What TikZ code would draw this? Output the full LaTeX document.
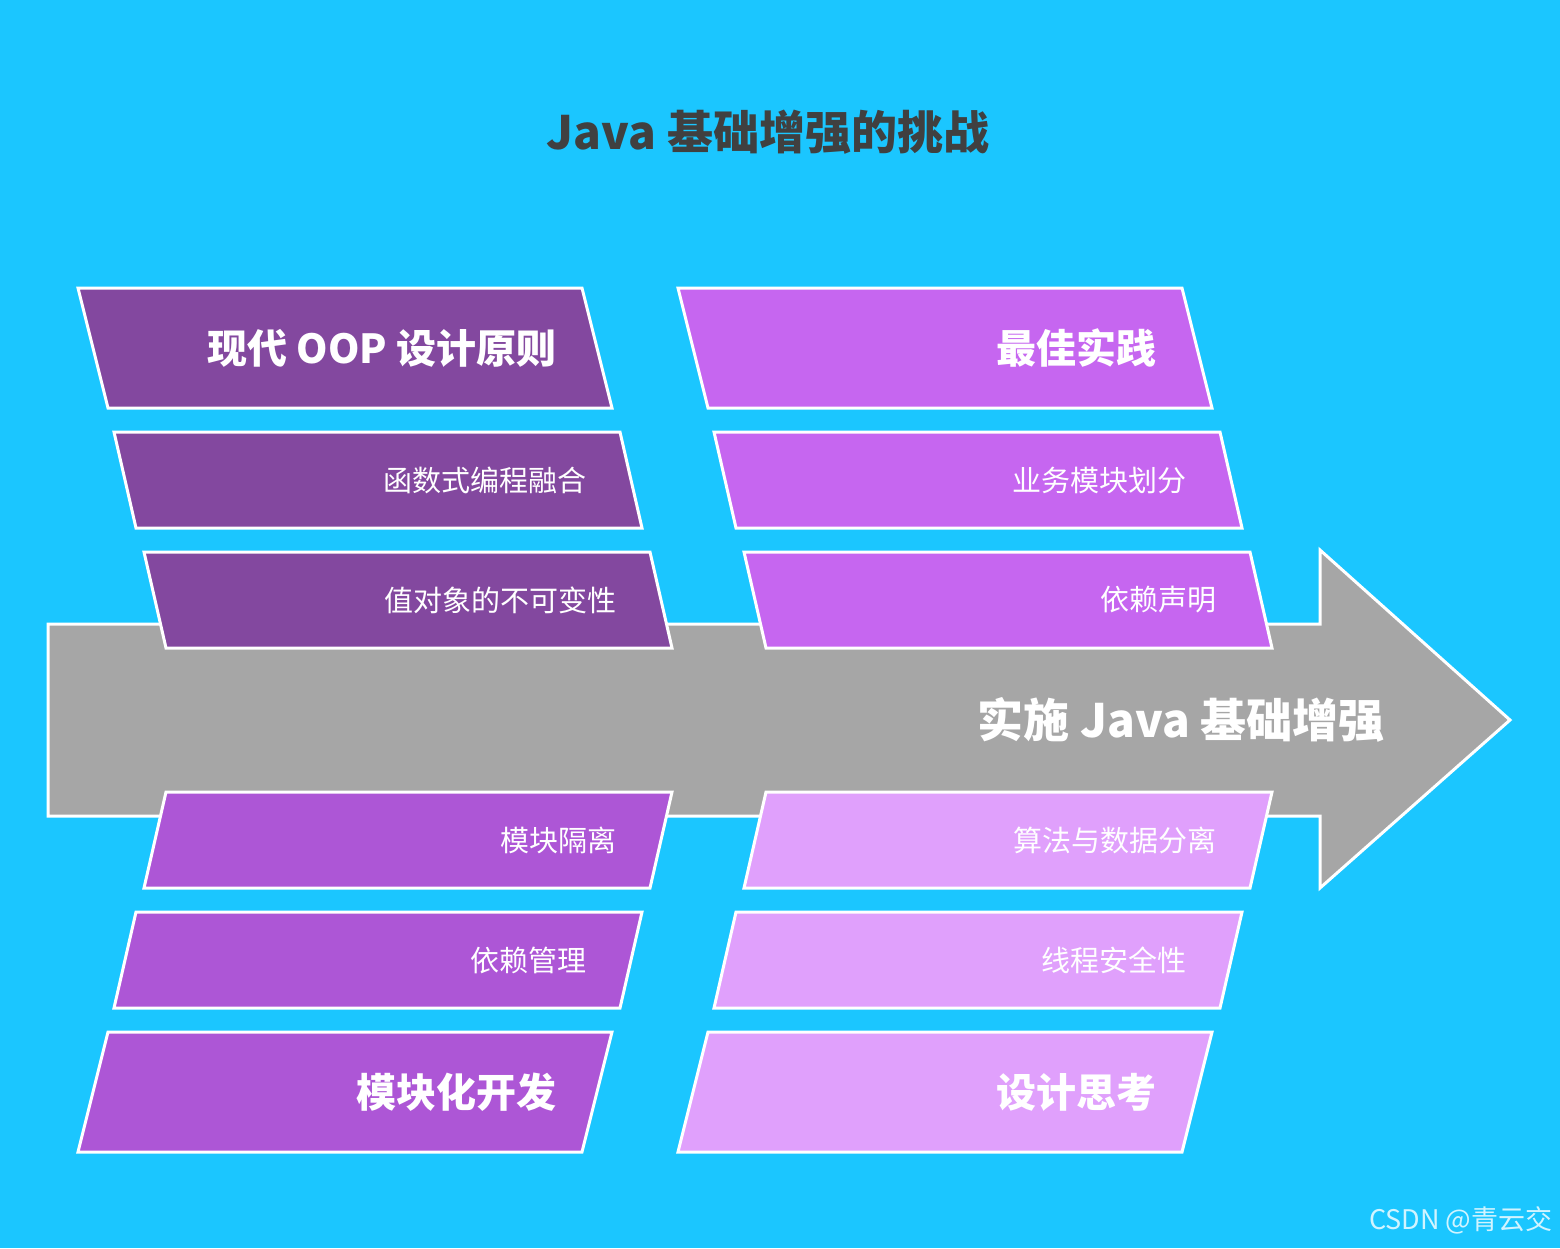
\documentclass[tikz,border=0pt]{standalone}
\usepackage{fontspec}
\setmainfont{Noto Sans CJK SC}
\usetikzlibrary{positioning}
\definecolor{bgblue}{HTML}{1BC6FF}
\definecolor{arrowgray}{HTML}{A6A6A6}
\definecolor{titlegray}{HTML}{404040}
\definecolor{purpA}{HTML}{83489F}
\definecolor{purpB}{HTML}{AD56D6}
\definecolor{purpC}{HTML}{C666F0}
\definecolor{purpD}{HTML}{E0A0FC}
\begin{document}
\begin{tikzpicture}
[x=1pt,y=-1pt,
 band/.style={draw=white,line width=3pt,line join=miter},
 head/.style={text=white,font=\fontsize{40}{48}\selectfont\bfseries,anchor=east},
 item/.style={text=white,font=\fontsize{29}{34}\selectfont,anchor=east}]
\useasboundingbox[fill=bgblue] (0,0) rectangle (1560,1248);
\node[text=titlegray,font=\fontsize{46}{54}\selectfont\bfseries] (title) at (768,132) {Java 基础增强的挑战};
% main arrow
\draw[band,fill=arrowgray] (48,624) -- (1320,624) -- (1320,550) -- (1510,720) -- (1320,888) -- (1320,816) -- (48,816) -- cycle;
\node[head,font=\fontsize{46}{54}\selectfont\bfseries] (goal) at (1388,720) {实施 Java 基础增强};
% bands: top-left x, top-right x, top y, bottom y, shift, colour
\foreach \dx/\col/\lab/\labb/\labc in {0/purpA/现代 OOP 设计原则/函数式编程融合/值对象的不可变性,600/purpC/最佳实践/业务模块划分/依赖声明} {
  \begin{scope}[xshift=\dx pt]
  \draw[band,fill=\col] (78,288) -- (582,288) -- (612,408) -- (108,408) -- cycle;
  \draw[band,fill=\col] (114,432) -- (620,432) -- (642,528) -- (136,528) -- cycle;
  \draw[band,fill=\col] (144,552) -- (650,552) -- (672,648) -- (166,648) -- cycle;
  \node[head] at (560,348) {\lab};
  \node[item] at (590,480) {\labb};
  \node[item] at (620,600) {\labc};
  \end{scope}
}
\foreach \dx/\col/\lab/\labb/\labc in {0/purpB/模块化开发/依赖管理/模块隔离,600/purpD/设计思考/线程安全性/算法与数据分离} {
  \begin{scope}[xshift=\dx pt]
  \draw[band,fill=\col] (166,792) -- (672,792) -- (650,888) -- (144,888) -- cycle;
  \draw[band,fill=\col] (136,912) -- (642,912) -- (620,1008) -- (114,1008) -- cycle;
  \draw[band,fill=\col] (108,1032) -- (612,1032) -- (582,1152) -- (78,1152) -- cycle;
  \node[item] at (620,840) {\labc};
  \node[item] at (590,960) {\labb};
  \node[head] at (560,1092) {\lab};
  \end{scope}
}
\node[text=white!80!bgblue,font=\fontsize{27}{32}\selectfont,anchor=east] (mark) at (1556,1220) {CSDN @青云交};
\end{tikzpicture}
\end{document}
